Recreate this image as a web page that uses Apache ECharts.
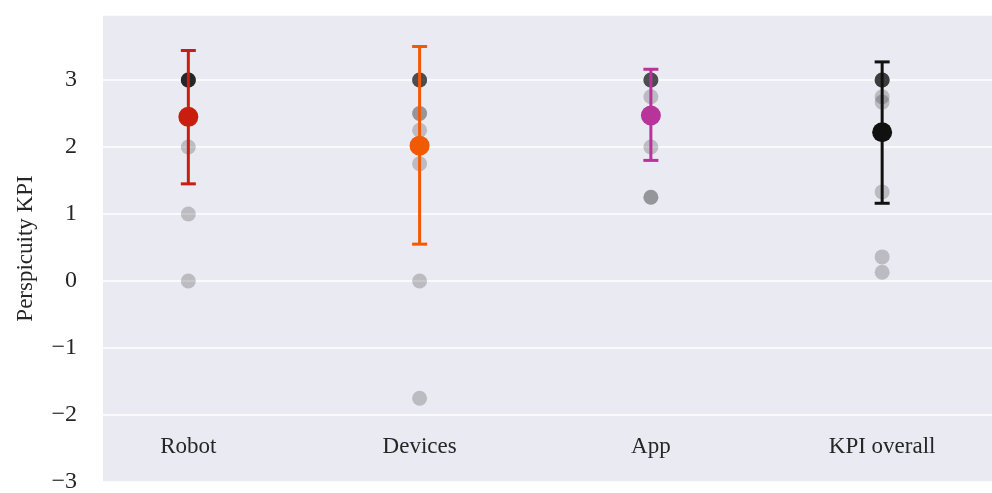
<!DOCTYPE html>
<html>
<head>
<meta charset="utf-8">
<script src="https://cdn.jsdelivr.net/npm/echarts@6/dist/echarts.min.js"></script>
<style>
  html, body { margin: 0; padding: 0; background: #fff; }
  #chart { width: 992px; height: 493px; }
</style>
</head>
<body>
<div id="chart"></div>
<script>
// categories and values
var categories = ['Robot', 'Devices', 'App', 'KPI overall'];
var robotScores = [3, 3, 3, 3, 3, 3, 3, 3, 2, 1, 0];
var devicesScores = [3, 3, 3, 3, 3, 2.5, 2.5, 2.25, 1.75, 0, -1.75];
var appScores = [3, 3, 3, 3, 3, 2.75, 2.5, 2.5, 2, 1.25, 1.25];
var kpiScores = [3, 3, 3, 3, 3, 3, 2.75, 2.67, 1.33, 0.36, 0.13];
var means = [2.45, 2.02, 2.47, 2.22];
var errLow = [1.45, 0.55, 1.80, 1.16];
var errHigh = [3.44, 3.50, 3.16, 3.27];
var yTicks = [-3, -2, -1, 0, 1, 2, 3];

var colors = ['#c81e10', '#f05a00', '#b8339a', '#111111'];
var font = '"Liberation Serif", "DejaVu Serif", serif';

var chart = echarts.init(document.getElementById('chart'));

// gray points, one pair per score
var points = [];
[robotScores, devicesScores, appScores, kpiScores].forEach(function (arr, i) {
  arr.forEach(function (v) { points.push([i, v]); });
});

var meanData = means.map(function (m, i) {
  return { value: [i, m], itemStyle: { color: colors[i], opacity: 1 } };
});
var errData = means.map(function (m, i) { return [i, errLow[i], errHigh[i]]; });

var option = {
  animation: false,
  grid: {
    left: 103,
    right: 0,
    top: 15,
    bottom: 11,
    outerBoundsMode: 'none',
    show: true,
    backgroundColor: '#eaeaf2',
    borderWidth: 0
  },
  xAxis: {
    type: 'value',
    min: -0.369,
    max: 3.475,
    axisLine: { show: false },
    axisTick: { show: false },
    splitLine: { show: false },
    axisLabel: {
      customValues: [0, 1, 2, 3],
      inside: true,
      margin: 24,
      fontFamily: font,
      fontSize: 23,
      color: '#262626',
      formatter: function (v) { return categories[Math.round(v)]; }
    }
  },
  yAxis: {
    type: 'value',
    min: -3,
    max: 3.97,
    interval: 1,
    name: 'Perspicuity KPI',
    nameLocation: 'middle',
    nameGap: 66,
    nameTextStyle: { fontFamily: font, fontSize: 23, color: '#262626' },
    axisLine: { show: false },
    axisTick: { show: false },
    splitLine: { lineStyle: { color: '#ffffff', width: 1.6 } },
    axisLabel: {
      margin: 26,
      fontFamily: font,
      fontSize: 24,
      color: '#262626',
      formatter: function (v) {
        if (yTicks.indexOf(v) < 0) return '';
        return String(v).replace('-', '\u2212');
      }
    }
  },
  series: [
    {
      type: 'scatter',
      data: points,
      symbolSize: 15,
      itemStyle: { color: 'rgba(0,0,0,0.2)', opacity: 1 },
      z: 2
    },
    {
      type: 'custom',
      data: errData,
      z: 3,
      renderItem: function (params, api) {
        var i = api.value(0);
        var lo = api.coord([i, api.value(1)]);
        var hi = api.coord([i, api.value(2)]);
        var c = colors[params.dataIndex];
        var cap = 7.5;
        var st = { stroke: c, lineWidth: 3 };
        return {
          type: 'group',
          children: [
            { type: 'line', shape: { x1: lo[0], y1: lo[1], x2: hi[0], y2: hi[1] }, style: st },
            { type: 'line', shape: { x1: lo[0] - cap, y1: lo[1], x2: lo[0] + cap, y2: lo[1] }, style: st },
            { type: 'line', shape: { x1: hi[0] - cap, y1: hi[1], x2: hi[0] + cap, y2: hi[1] }, style: st }
          ]
        };
      }
    },
    {
      type: 'scatter',
      data: meanData,
      symbolSize: 20,
      z: 4
    }
  ]
};

chart.setOption(option);
window.addEventListener('resize', function () { chart.resize(); });
</script>
</body>
</html>
